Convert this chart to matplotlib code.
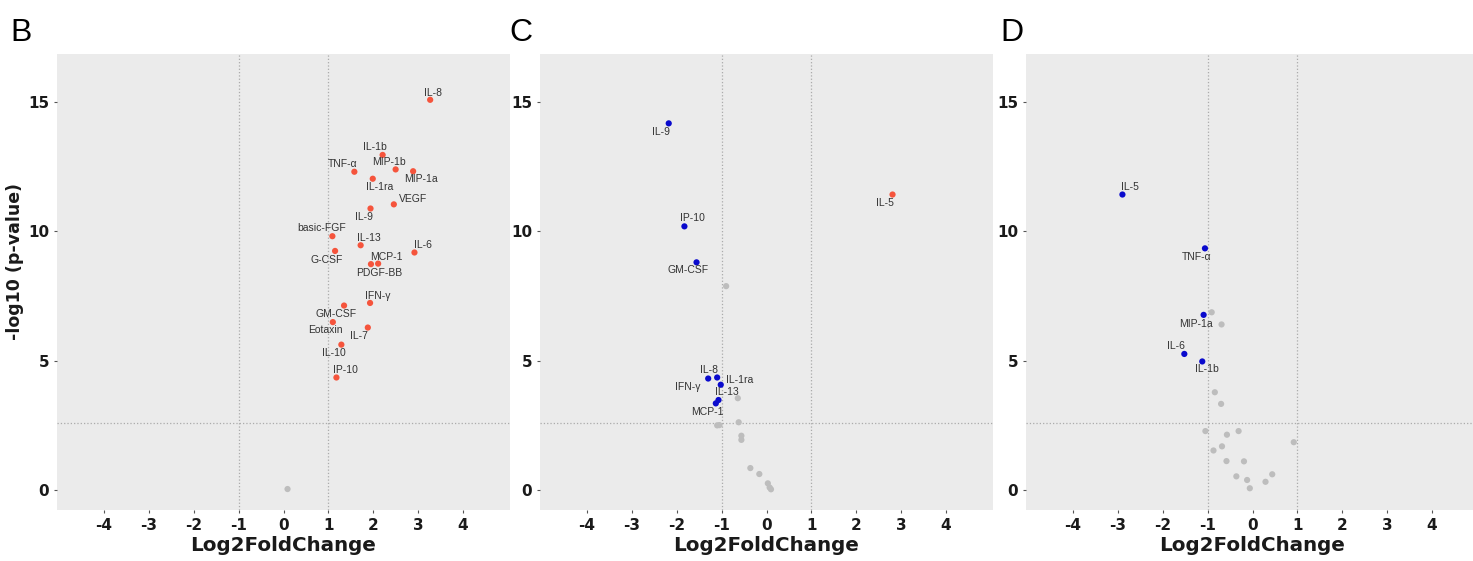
import matplotlib
matplotlib.use("Agg")
import matplotlib.pyplot as plt

plt.rcParams['font.family'] = ['Liberation Sans', 'DejaVu Sans']

# ---------------- data ----------------
# Panel B
b_up_labels = ["IL-8", "IL-1b", "TNF-α", "MIP-1b", "MIP-1a", "IL-1ra", "VEGF", "IL-9",
               "basic-FGF", "IL-13", "IL-6", "G-CSF", "MCP-1", "PDGF-BB", "IFN-γ",
               "GM-CSF", "Eotaxin", "IL-7", "IL-10", "IP-10"]
b_up_x = [3.27, 2.21, 1.58, 2.50, 2.89, 1.99, 2.46, 1.94, 1.09, 1.72, 2.92, 1.15, 2.11,
          1.95, 1.93, 1.35, 1.10, 1.88, 1.29, 1.18]
b_up_y = [15.08, 12.95, 12.30, 12.39, 12.32, 12.03, 11.04, 10.88, 9.81, 9.46, 9.18, 9.24,
          8.75, 8.73, 7.23, 7.13, 6.49, 6.28, 5.62, 4.35]
b_down_labels = []
b_down_x = []
b_down_y = []
b_ns_x = [0.09]
b_ns_y = [0.04]

# Panel C
c_up_labels = ["IL-5"]
c_up_x = [2.81]
c_up_y = [11.42]
c_down_labels = ["IL-9", "IP-10", "GM-CSF", "IL-8", "IFN-γ", "IL-1ra", "IL-13", "MCP-1"]
c_down_x = [-2.18, -1.83, -1.56, -1.10, -1.30, -1.02, -1.07, -1.13]
c_down_y = [14.17, 10.19, 8.80, 4.35, 4.31, 4.07, 3.48, 3.35]
c_ns_x = [-0.90, -0.64, -0.62, -1.10, -1.05, -0.56, -0.56, -0.36, -0.16, 0.03, 0.07, 0.10]
c_ns_y = [7.88, 3.55, 2.62, 2.50, 2.51, 2.10, 1.94, 0.85, 0.62, 0.26, 0.10, 0.03]

# Panel D
d_up_labels = []
d_up_x = []
d_up_y = []
d_down_labels = ["IL-5", "TNF-α", "MIP-1a", "IL-6", "IL-1b"]
d_down_x = [-2.90, -1.06, -1.09, -1.52, -1.12]
d_down_y = [11.42, 9.34, 6.77, 5.26, 4.97]
d_ns_x = [-0.91, -0.69, -0.84, -0.70, -1.05, -0.57, -0.31, 0.92, -0.87, -0.68, -0.58,
          -0.19, -0.36, -0.12, -0.06, 0.29, 0.44]
d_ns_y = [6.87, 6.40, 3.78, 3.33, 2.28, 2.14, 2.28, 1.85, 1.53, 1.69, 1.12, 1.11, 0.53,
          0.39, 0.07, 0.32, 0.61]

x_ticks = [-4, -3, -2, -1, 0, 1, 2, 3, 4]
y_ticks = [0, 5, 10, 15]
fc_cut = 1.0
p_cut = 2.6

# label offsets (pixels) -- layout only
b_off = {"IL-8": (3, 7), "IL-1b": (-8, 8), "TNF-α": (-12, 8), "MIP-1b": (-7, 7),
         "MIP-1a": (8, -8), "IL-1ra": (7, -8), "VEGF": (19, 5), "IL-9": (-7, -8),
         "basic-FGF": (-11, 8), "IL-13": (8, 7), "IL-6": (8, 7), "G-CSF": (-8, -9),
         "MCP-1": (8, 7), "PDGF-BB": (8, -9), "IFN-γ": (8, 7), "GM-CSF": (-8, -8),
         "Eotaxin": (-7, -8), "IL-7": (-9, -8), "IL-10": (-7, -8), "IP-10": (9, 7)}
c_off = {"IL-5": (-8, -8), "IL-9": (-8, -9), "IP-10": (8, 8), "GM-CSF": (-8, -8),
         "IL-8": (-8, 7), "IFN-γ": (-20, -8), "IL-1ra": (19, 5), "IL-13": (8, 8),
         "MCP-1": (-8, -9)}
d_off = {"IL-5": (8, 8), "TNF-α": (-8, -9), "MIP-1a": (-8, -9), "IL-6": (-8, 8),
         "IL-1b": (5, -8)}

RED = "#F5543C"
BLUE = "#0A0ACD"
GREY = "#BDBDBD"
BG = "#EBEBEB"
BOLD_FAMILY = ['DejaVu Sans']

W, H = 1473, 561
fig = plt.figure(figsize=(W / 100, H / 100), dpi=100)

panels = [
    ("B", 57, 10, b_up_labels, b_up_x, b_up_y, b_down_labels, b_down_x, b_down_y, b_ns_x, b_ns_y, b_off, True),
    ("C", 540, 509, c_up_labels, c_up_x, c_up_y, c_down_labels, c_down_x, c_down_y, c_ns_x, c_ns_y, c_off, False),
    ("D", 1026, 1000, d_up_labels, d_up_x, d_up_y, d_down_labels, d_down_x, d_down_y, d_ns_x, d_ns_y, d_off, False),
]

top_px, bot_px = 54, 510
for (letter, left_px, let_px, ul, ux, uy, dl, dx, dy, nx, ny, off, ylab) in panels:
    ax = fig.add_axes([left_px / W, 1 - bot_px / H, 453 / W, (bot_px - top_px) / H])
    ax.set_facecolor(BG)
    for s in ax.spines.values():
        s.set_visible(False)
    ax.set_xlim(-5.05, 5.05)
    ax.set_ylim(-0.77, 16.85)
    ax.axvline(-fc_cut, color="#ABABAB", ls=":", lw=0.9, zorder=1)
    ax.axvline(fc_cut, color="#ABABAB", ls=":", lw=0.9, zorder=1)
    ax.axhline(p_cut, color="#ABABAB", ls=":", lw=0.9, zorder=1)
    ax.scatter(nx, ny, s=20, color=GREY, edgecolors="none", zorder=2)
    ax.scatter(ux, uy, s=20, color=RED, edgecolors="none", zorder=3)
    ax.scatter(dx, dy, s=20, color=BLUE, edgecolors="none", zorder=3)
    for labs, xs, ys in ((ul, ux, uy), (dl, dx, dy)):
        for lab, xv, yv in zip(labs, xs, ys):
            ox, oy = off.get(lab, (0, 8))
            ax.annotate(lab, (xv, yv), xytext=(ox, oy), textcoords="offset pixels",
                        ha="center", va="center", fontsize=7.5, color="#333333", zorder=4)
    ax.set_xticks(x_ticks)
    ax.set_xticklabels([str(t) for t in x_ticks])
    ax.set_yticks(y_ticks)
    ax.set_yticklabels([str(t) for t in y_ticks])
    ax.tick_params(axis="both", length=2.5, width=0.8, color="#555555", pad=3,
                   labelsize=11, labelcolor="#1A1A1A")
    for t in ax.get_xticklabels() + ax.get_yticklabels():
        t.set_fontweight("bold")
        t.set_family(BOLD_FAMILY)
    ax.set_xlabel("Log2FoldChange", fontsize=14.3, fontweight="bold", labelpad=2.5,
                  color="#1A1A1A", family=BOLD_FAMILY)
    if ylab:
        ax.set_ylabel("-log10 (p-value)", fontsize=12.5, fontweight="bold",
                      color="#1A1A1A", family=BOLD_FAMILY)
        ax.yaxis.set_label_coords(-(left_px - 24) / 453, (bot_px - 262) / (bot_px - top_px))
    fig.text(let_px / W, 1 - 18 / H, letter, fontsize=23, va="top", ha="left", color="black")

fig.savefig("out.png", dpi=100)
